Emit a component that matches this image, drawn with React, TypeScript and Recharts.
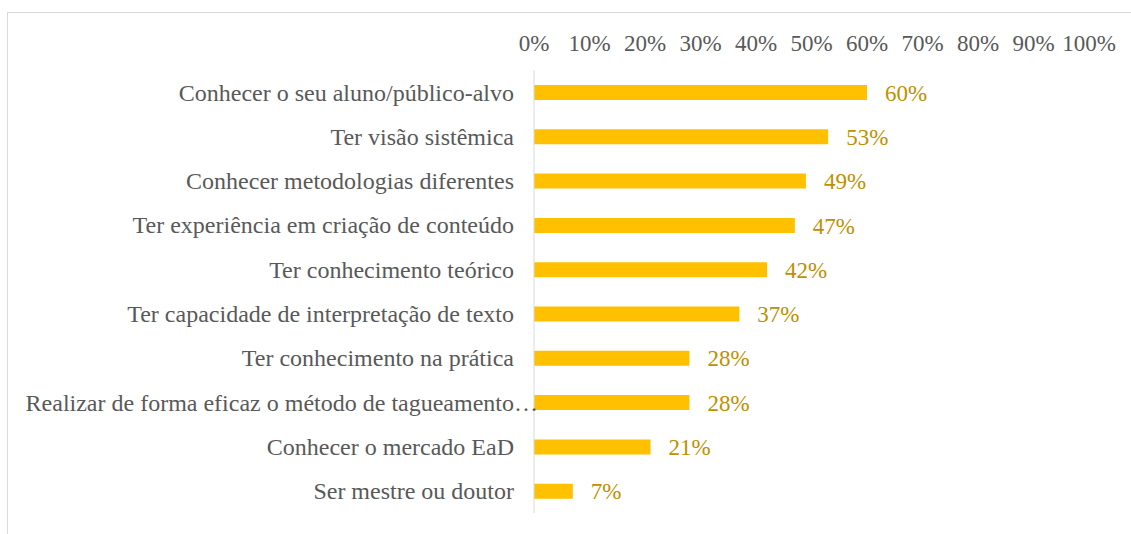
import React from "react";
import { BarChart, Bar, XAxis, YAxis, LabelList } from "recharts";

const categories = [
  "Conhecer o seu aluno/público-alvo",
  "Ter visão sistêmica",
  "Conhecer metodologias diferentes",
  "Ter experiência em criação de conteúdo",
  "Ter conhecimento teórico",
  "Ter capacidade de interpretação de texto",
  "Ter conhecimento na prática",
  "Realizar de forma eficaz o método de tagueamento…",
  "Conhecer o mercado EaD",
  "Ser mestre ou doutor",
];

const shares = [60, 53, 49, 47, 42, 37, 28, 28, 21, 7];

const xTicks = [0, 10, 20, 30, 40, 50, 60, 70, 80, 90, 100];

const data = categories.map((name, i) => ({ name, value: shares[i] }));

const FONT = "Liberation Serif";

function CategoryTick(props: any) {
  const { x, y, payload } = props;
  const label: string = payload.value;
  // the truncated label spills past the axis, like in the original
  const dx = label.endsWith("…") ? 24 : 0;
  return (
    <text
      x={x + dx}
      y={y}
      dy="0.35em"
      textAnchor="end"
      fill="#595959"
      fontFamily={FONT}
      fontSize={24}
    >
      {label}
    </text>
  );
}

export default function App() {
  return (
    <div
      style={{
        position: "absolute",
        left: 0,
        top: 0,
        width: 1131,
        height: 534,
        background: "#fff",
        fontFamily: FONT,
      }}
    >
      <div
        style={{
          position: "absolute",
          left: 7,
          top: 12,
          right: -2,
          bottom: -2,
          borderTop: "1px solid #D9D9D9",
          borderLeft: "1px solid #D9D9D9",
        }}
      />
      <BarChart
        width={1131}
        height={534}
        data={data}
        layout="vertical"
        margin={{ top: 20, right: 42, bottom: 21, left: 0 }}
        barSize={15}
      >
        <XAxis
          type="number"
          orientation="top"
          domain={[0, 100]}
          ticks={xTicks}
          height={50}
          axisLine={false}
          tickLine={false}
          tickSize={0}
          tickMargin={19}
          tickFormatter={(v: number) => `${v}%`}
          tick={{ fill: "#595959", fontSize: 23, fontFamily: FONT }}
          interval={0}
        />
        <YAxis
          type="category"
          dataKey="name"
          width={534}
          axisLine={{ stroke: "#D9D9D9", strokeWidth: 1 }}
          tickLine={false}
          tickSize={0}
          tickMargin={20}
          tick={<CategoryTick />}
          interval={0}
        />
        <Bar dataKey="value" fill="#FFC000" isAnimationActive={false}>
          <LabelList
            dataKey="value"
            position="right"
            offset={18}
            formatter={(v: any) => `${v}%`}
            fill="#BF9000"
            fontSize={23}
            fontFamily={FONT}
          />
        </Bar>
      </BarChart>
    </div>
  );
}
